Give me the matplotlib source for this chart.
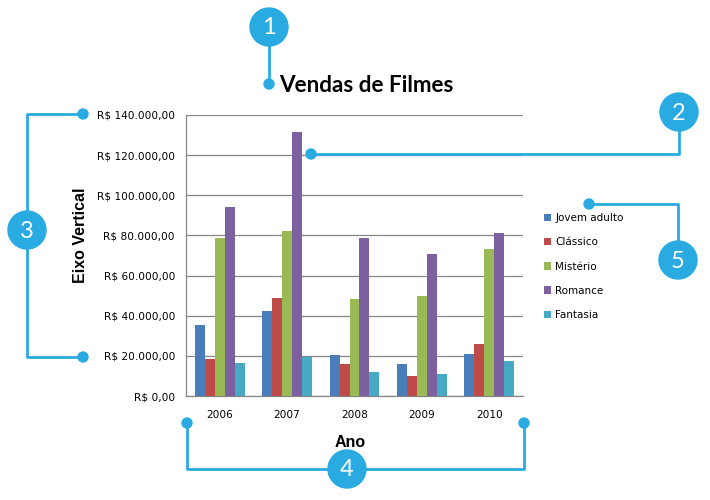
import numpy as np
import matplotlib.pyplot as plt
from matplotlib.patches import Circle

# data
anos = ["2006", "2007", "2008", "2009", "2010"]
generos = ["Jovem adulto", "Clássico", "Mistério", "Romance", "Fantasia"]
jovem_adulto = [35500, 42300, 20400, 16000, 21000]
classico = [18500, 48800, 16000, 10000, 26000]
misterio = [78700, 82200, 48300, 49800, 73200]
romance = [94000, 131500, 78700, 70700, 81200]
fantasia = [16500, 19600, 12000, 11000, 17400]
y_ticks = [0, 20000, 40000, 60000, 80000, 100000, 120000, 140000]

series = [jovem_adulto, classico, misterio, romance, fantasia]
cores = ['#4a7ebb', '#be4b48', '#98b954', '#7d60a0', '#46aac5']
azul = '#29abe2'


def reais(v):
    s = "{:,.2f}".format(v)
    s = s.replace(",", "X").replace(".", ",").replace("X", ".")
    return "R$ " + s


fig = plt.figure(figsize=(7.1, 5.0), dpi=100)
ax = fig.add_axes([186 / 710, 104 / 500, 337 / 710, 281 / 500])

x = np.arange(len(anos))
w = 0.148
for i, (vals, cor, nome) in enumerate(zip(series, cores, generos)):
    ax.bar(x + (i - 2) * w, vals, w, color=cor, label=nome, zorder=3)

ax.set_xlim(-0.5, len(anos) - 0.5)
ax.set_ylim(0, 140000)
ax.set_yticks(y_ticks)
ax.set_yticklabels([reais(v) for v in y_ticks], fontsize=7.6, family='DejaVu Sans')
ax.set_xticks(x)
ax.set_xticklabels(anos, fontsize=7.6, family='DejaVu Sans')
ax.tick_params(axis='y', length=0, pad=8)
ax.tick_params(axis='x', length=0, pad=10)
ax.grid(axis='y', color='#868686', lw=0.9, zorder=0)
for s in ['top', 'right']:
    ax.spines[s].set_visible(False)
for s in ['left', 'bottom']:
    ax.spines[s].set_color('#868686')
    ax.spines[s].set_linewidth(0.9)

ax.set_ylabel("Eixo Vertical", fontsize=11.5, fontweight='bold', family='Liberation Sans')
ax.yaxis.set_label_coords(-0.29, 0.573)
ax.set_xlabel("Ano", fontsize=11.5, fontweight='bold', family='Liberation Sans')
ax.xaxis.set_label_coords(0.487, -0.138)

leg = ax.legend(loc='upper left', bbox_to_anchor=(540 / 710, 1 - 209 / 500),
                bbox_transform=fig.transFigure, frameon=False, fontsize=7.5,
                handlelength=0.7, handleheight=0.7, handletextpad=0.35,
                labelspacing=1.36, borderaxespad=0)
for t in leg.get_texts():
    t.set_family('DejaVu Sans')

fig.text(366 / 710, 1 - 85 / 500, "Vendas de Filmes", ha='center', va='center',
         fontsize=16.2, fontweight='bold', family='Lato')

# overlay for the numbered callouts, in pixel coords
ov = fig.add_axes([0, 0, 1, 1], zorder=10)
ov.set_xlim(0, 710)
ov.set_ylim(500, 0)
ov.axis('off')
ov.patch.set_alpha(0)

lw = 2
# 1 - title
ov.plot([269, 269], [27, 84], color=azul, lw=lw)
ov.add_patch(Circle((269, 84), 5, color=azul))
# 2 - plot area
ov.plot([679, 679, 311], [112, 154, 154], color=azul, lw=lw)
ov.add_patch(Circle((311, 154), 5, color=azul))
# 3 - vertical axis
ov.plot([83, 27, 27, 83], [114, 114, 357, 357], color=azul, lw=lw)
ov.add_patch(Circle((83, 114), 5, color=azul))
ov.add_patch(Circle((83, 357), 5, color=azul))
# 4 - horizontal axis
ov.plot([187, 187, 524, 524], [423, 469, 469, 423], color=azul, lw=lw)
ov.add_patch(Circle((187, 423), 5, color=azul))
ov.add_patch(Circle((524, 423), 5, color=azul))
# 5 - legend
ov.plot([589, 678, 678], [204, 204, 260], color=azul, lw=lw)
ov.add_patch(Circle((589, 204), 5, color=azul))

for num, (cx, cy) in zip("12345", [(269, 27), (679, 112), (27, 230), (347, 469), (678, 260)]):
    ov.add_patch(Circle((cx, cy), 19, color=azul, zorder=5))
    ov.text(cx, cy + 1, num, color='white', fontsize=17, ha='center', va='center',
            family='Lato', zorder=6)

plt.savefig("out.png", dpi=100)
